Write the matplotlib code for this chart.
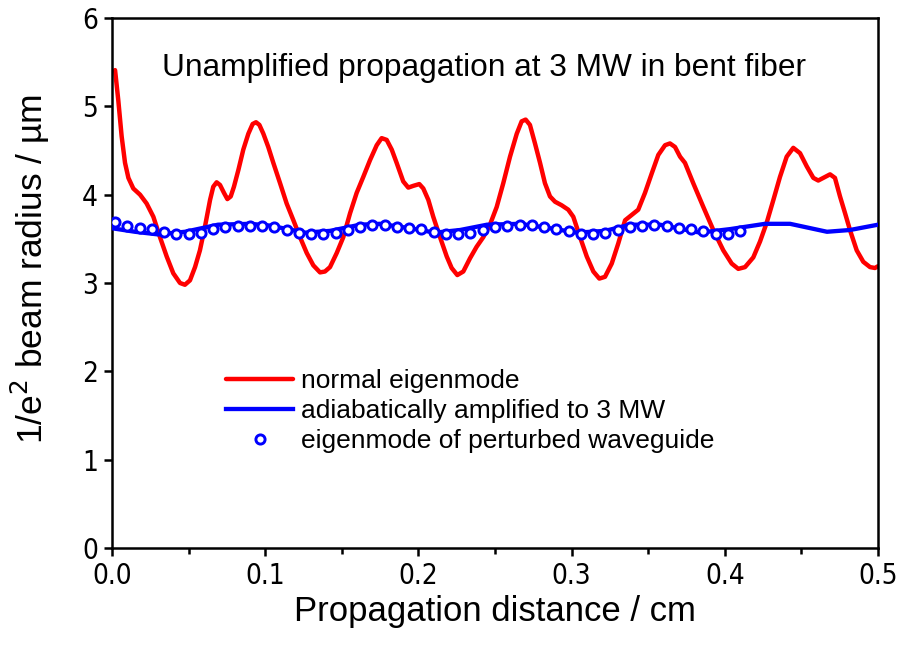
import matplotlib
matplotlib.use("Agg")
import matplotlib.pyplot as plt
from matplotlib.ticker import MultipleLocator

plt.rcParams['font.family'] = ['Liberation Sans', 'DejaVu Sans']

# normal eigenmode (red)
red_x = [0.0020, 0.0041, 0.0063, 0.0085, 0.0107, 0.0139, 0.0183, 0.0226, 0.0270, 0.0313,
         0.0357, 0.0400, 0.0444, 0.0476, 0.0509, 0.0542, 0.0574, 0.0607, 0.0640, 0.0661,
         0.0683, 0.0705, 0.0731, 0.0753, 0.0775, 0.0796, 0.0825, 0.0857, 0.0890, 0.0918,
         0.0940, 0.0962, 0.0988, 0.1020, 0.1053, 0.1097, 0.1140, 0.1184, 0.1227, 0.1271,
         0.1314, 0.1358, 0.1390, 0.1423, 0.1467, 0.1510, 0.1554, 0.1597, 0.1640, 0.1684,
         0.1728, 0.1760, 0.1793, 0.1826, 0.1858, 0.1901, 0.1934, 0.1967, 0.2006, 0.2032,
         0.2065, 0.2097, 0.2141, 0.2185, 0.2217, 0.2254, 0.2293, 0.2337, 0.2380, 0.2424,
         0.2467, 0.2511, 0.2554, 0.2598, 0.2642, 0.2674, 0.2700, 0.2728, 0.2761, 0.2794,
         0.2826, 0.2859, 0.2892, 0.2935, 0.2978, 0.3011, 0.3055, 0.3099, 0.3142, 0.3181,
         0.3218, 0.3262, 0.3305, 0.3349, 0.3392, 0.3435, 0.3479, 0.3523, 0.3566, 0.3610,
         0.3642, 0.3675, 0.3708, 0.3740, 0.3794, 0.3860, 0.3925, 0.3990, 0.4045, 0.4088,
         0.4132, 0.4186, 0.4230, 0.4273, 0.4317, 0.4360, 0.4404, 0.4447, 0.4491, 0.4535,
         0.4578, 0.4610, 0.4643, 0.4687, 0.4719, 0.4752, 0.4785, 0.4817, 0.4861, 0.4904,
         0.4948, 0.4980, 0.5000]
red_y = [5.41, 5.07, 4.66, 4.36, 4.19, 4.07, 4.00, 3.90, 3.75, 3.52,
         3.30, 3.11, 3.00, 2.98, 3.03, 3.18, 3.37, 3.64, 3.94, 4.09,
         4.14, 4.11, 4.02, 3.95, 3.98, 4.09, 4.28, 4.51, 4.69, 4.80,
         4.82, 4.79, 4.69, 4.54, 4.36, 4.13, 3.90, 3.71, 3.52, 3.34,
         3.20, 3.12, 3.13, 3.18, 3.34, 3.52, 3.79, 4.02, 4.20, 4.39,
         4.56, 4.64, 4.62, 4.51, 4.36, 4.15, 4.08, 4.10, 4.12, 4.07,
         3.94, 3.75, 3.52, 3.30, 3.17, 3.09, 3.13, 3.28, 3.41, 3.52,
         3.66, 3.86, 4.13, 4.43, 4.69, 4.83, 4.85, 4.79, 4.58, 4.36,
         4.13, 3.98, 3.92, 3.88, 3.83, 3.75, 3.52, 3.30, 3.13, 3.05,
         3.07, 3.22, 3.45, 3.71, 3.77, 3.83, 4.02, 4.24, 4.45, 4.56,
         4.58, 4.54, 4.43, 4.36, 4.13, 3.86, 3.60, 3.37, 3.22, 3.16,
         3.18, 3.29, 3.47, 3.68, 3.94, 4.20, 4.43, 4.53, 4.47, 4.32,
         4.19, 4.16, 4.19, 4.23, 4.19, 3.98, 3.79, 3.60, 3.37, 3.24,
         3.18, 3.17, 3.19]

# adiabatically amplified (blue line)
blue_x = [0.0, 0.0150, 0.0300, 0.0477, 0.0692, 0.0901, 0.1031, 0.1260, 0.1423, 0.1619,
          0.1749, 0.1945, 0.2108, 0.2272, 0.2448, 0.2663, 0.2859, 0.3035, 0.3218, 0.3381,
          0.3577, 0.3838, 0.4034, 0.4263, 0.4426, 0.4667, 0.4817, 0.5]
blue_y = [3.62, 3.58, 3.55, 3.58, 3.66, 3.67, 3.65, 3.57, 3.59, 3.66,
          3.67, 3.62, 3.57, 3.60, 3.66, 3.67, 3.62, 3.57, 3.59, 3.66,
          3.66, 3.57, 3.61, 3.67, 3.67, 3.58, 3.60, 3.66]

# eigenmode of perturbed waveguide (circles)
circ_x = [0.002 + 0.008 * i for i in range(52)]
circ_y = [3.69, 3.64, 3.62, 3.61, 3.58, 3.55, 3.55, 3.57, 3.61, 3.63,
          3.65, 3.65, 3.64, 3.63, 3.60, 3.57, 3.55, 3.56, 3.57, 3.60,
          3.63, 3.66, 3.66, 3.63, 3.62, 3.61, 3.58, 3.55, 3.55, 3.57,
          3.60, 3.63, 3.65, 3.66, 3.66, 3.63, 3.61, 3.59, 3.56, 3.55,
          3.57, 3.60, 3.63, 3.65, 3.66, 3.64, 3.62, 3.61, 3.59, 3.55,
          3.56, 3.59]

x_ticks = [0.0, 0.1, 0.2, 0.3, 0.4, 0.5]
x_ticklabels = ['0.0', '0.1', '0.2', '0.3', '0.4', '0.5']
y_ticks = [0, 1, 2, 3, 4, 5, 6]

fig = plt.figure(figsize=(9.04, 6.45), dpi=100)
ax = fig.add_axes([112/904, 1-548/645, (878-112)/904, (548-18)/645])

ax.plot(red_x, red_y, color='#ff0000', lw=3.2, solid_joinstyle='round',
        solid_capstyle='round', label='normal eigenmode', zorder=2)
ax.plot(blue_x, blue_y, color='#0000ff', lw=3.1, solid_joinstyle='round',
        label='adiabatically amplified to 3 MW', zorder=3)
ax.plot(circ_x, circ_y, ls='none', marker='o', ms=6.6, mfc='white', mec='#0000ff',
        mew=2.1, label='eigenmode of perturbed waveguide', zorder=4)

ax.set_xlim(0, 0.5)
ax.set_ylim(0, 6)
ax.set_xticks(x_ticks)
ax.set_xticklabels(x_ticklabels)
ax.set_yticks(y_ticks)
ax.xaxis.set_minor_locator(MultipleLocator(0.05))

for lab in ax.get_xticklabels() + ax.get_yticklabels():
    lab.set_family(['DejaVu Sans'])
    lab.set_stretch('condensed')
    lab.set_fontsize(20)

ax.tick_params(which='major', direction='out', length=6, width=1.8, pad=4,
               top=False, right=False)
ax.tick_params(which='minor', direction='out', length=4, width=1.8,
               top=False, right=False)
for s in ax.spines.values():
    s.set_linewidth(1.8)

ax.set_xlabel('Propagation distance / cm', fontsize=25, labelpad=4)
ax.set_ylabel('1/e$^{2}$ beam radius / \u00b5m', fontsize=25.5)
ax.yaxis.set_label_coords(-0.078, 0.526)

ax.text(0.243, 5.43, 'Unamplified propagation at 3 MW in bent fiber', fontsize=22.8,
        ha='center', va='center')

leg = ax.legend(loc='upper left', bbox_to_anchor=(226/904, 1-369/645),
                bbox_transform=fig.transFigure, frameon=False, fontsize=19,
                handlelength=2.55, handletextpad=0.3, labelspacing=0.23,
                borderpad=0, borderaxespad=0)

fig.savefig('out.png', dpi=100)
